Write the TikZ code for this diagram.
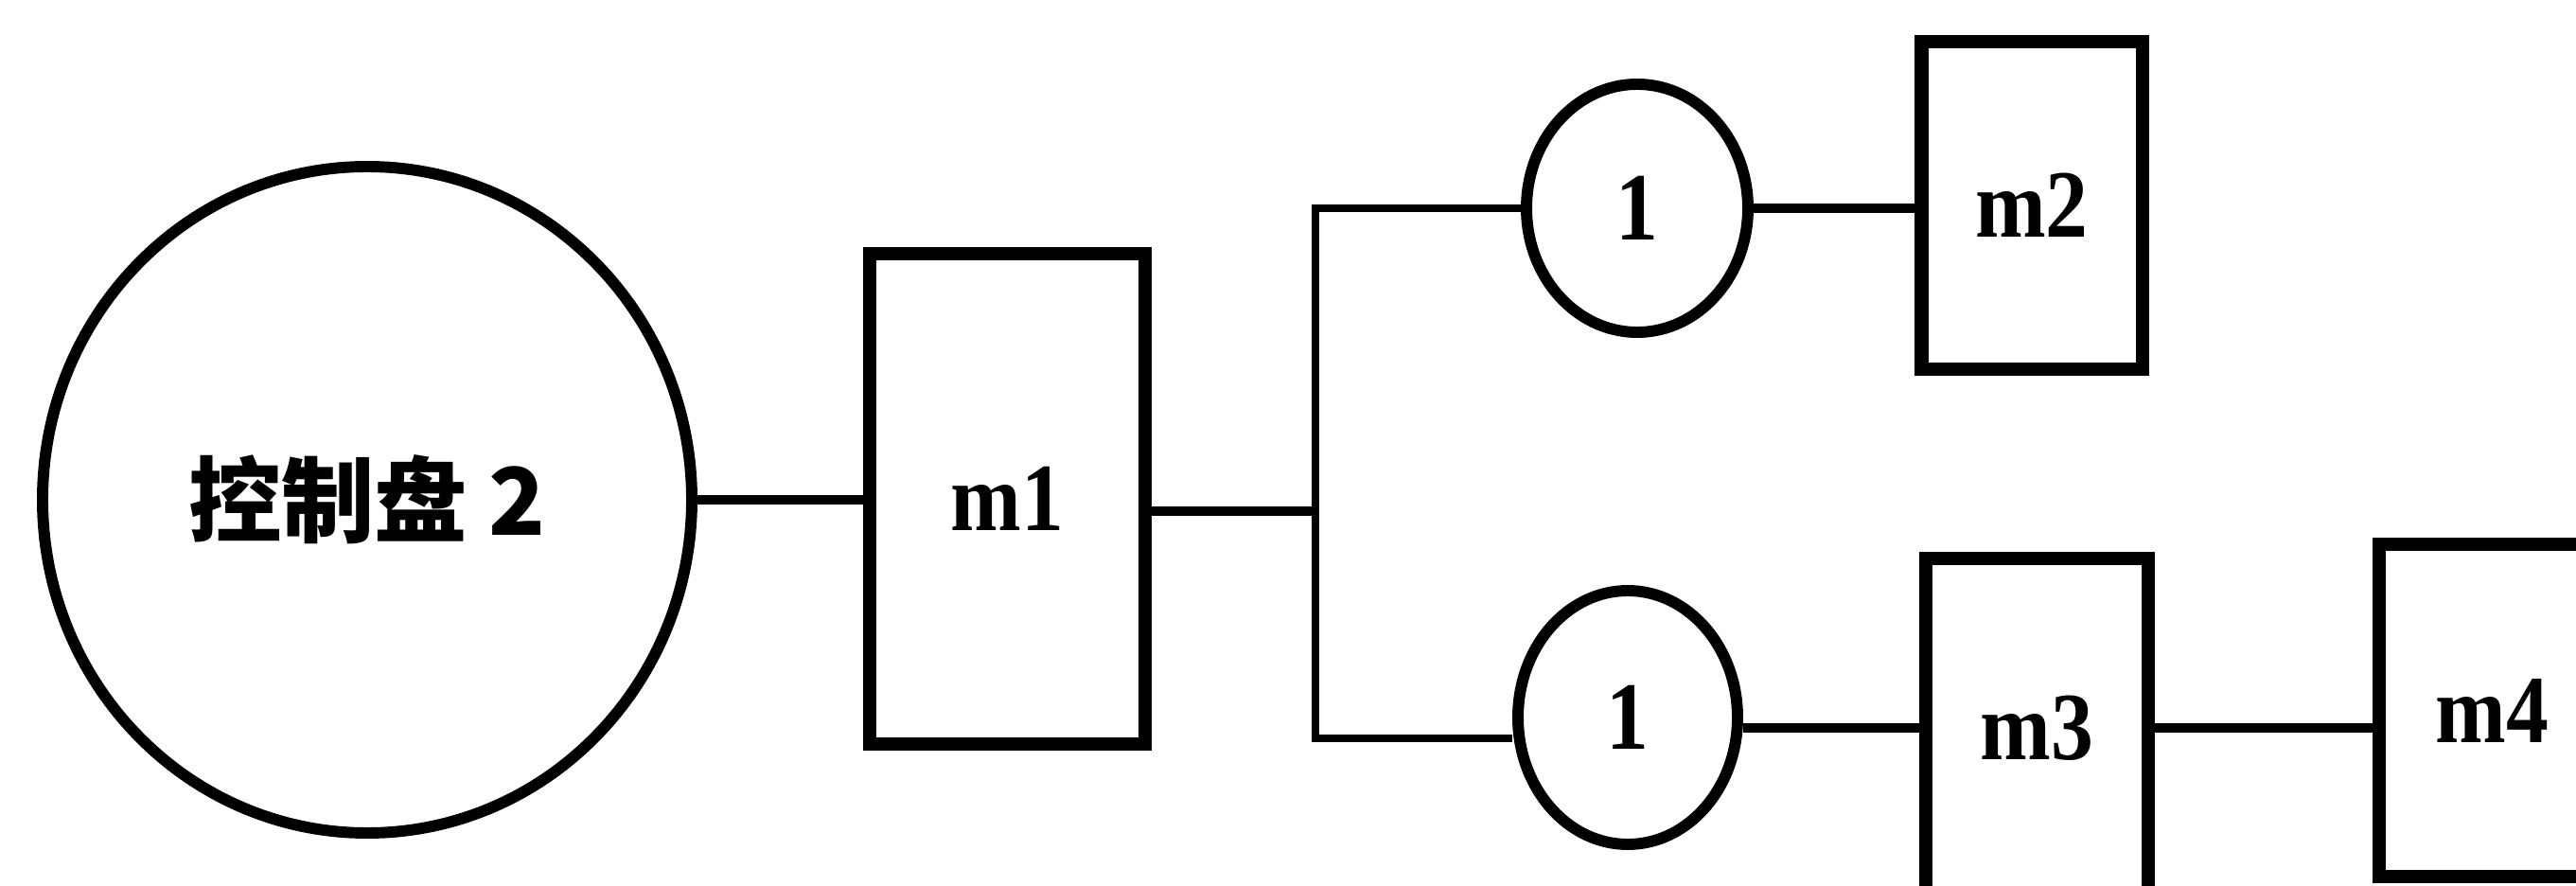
\documentclass[tikz,border=0pt]{standalone}
\usepackage{fontspec}
\usepackage{tikz}
\usetikzlibrary{shapes.geometric}
\newfontfamily\cjkfont{Noto Sans CJK SC}
\newfontfamily\labfont[FakeStretch=0.88]{Liberation Serif}

\begin{document}
\begin{tikzpicture}[
    panel/.style={ellipse, draw, line width=3.4pt, inner sep=0pt, minimum width=6.86cm, minimum height=7.04cm, font=\cjkfont\bfseries\fontsize{28}{30}\selectfont},
    unit/.style={ellipse, draw, line width=3.4pt, inner sep=0pt, font=\labfont\bfseries\fontsize{29}{30}\selectfont},
    mbox/.style={rectangle, draw, line width=4pt, inner sep=0pt, minimum width=2.33cm, font=\labfont\bfseries\fontsize{29}{30}\selectfont},
    wire/.style={line width=2.8pt},
    bus/.style={line width=2.2pt}
]
\useasboundingbox (0,0) rectangle (27.22,9.35);
\clip (0,0) rectangle (27.22,9.35);

% Control panel
\node[panel] (ctrl) at (3.88,4.07) {控制盘 2};

% First module
\node[mbox, minimum width=2.91cm, minimum height=5.18cm] (m1) at (10.645,4.08) {m1};

% Branch points
\coordinate (busM) at (13.9,3.95);
\coordinate (busB) at (13.9,1.55);

% Upper branch
\node[unit, minimum width=2.34cm, minimum height=2.62cm] (u1) at (17.30,7.15) {1};
\node[mbox, minimum height=3.46cm] (m2) at (21.47,7.18) {m2};

% Lower branch
\node[unit, minimum width=2.32cm, minimum height=2.68cm] (u2) at (17.20,1.77) {1};
\node[mbox, minimum width=2.35cm, minimum height=3.58cm] (m3) at (21.525,1.66) {m3};
\node[mbox, minimum width=2.39cm, minimum height=3.51cm] (m4) at (26.335,1.845) {m4};

% Connections
\draw[wire] (ctrl.east) -- (m1.west |- ctrl.east);
\draw[wire] (m1.east |- busM) -- (busM);
\draw[bus] (u1.west) -| (busB) -- (u2.west |- busB);
\draw[wire] (u1.east) -- (m2.west |- u1.east);
\draw[wire] (u2.east |- m3.west) -- (m3.west);
\draw[wire] (m3.east) -- (m4.west |- m3.east);

\end{tikzpicture}
\end{document}
